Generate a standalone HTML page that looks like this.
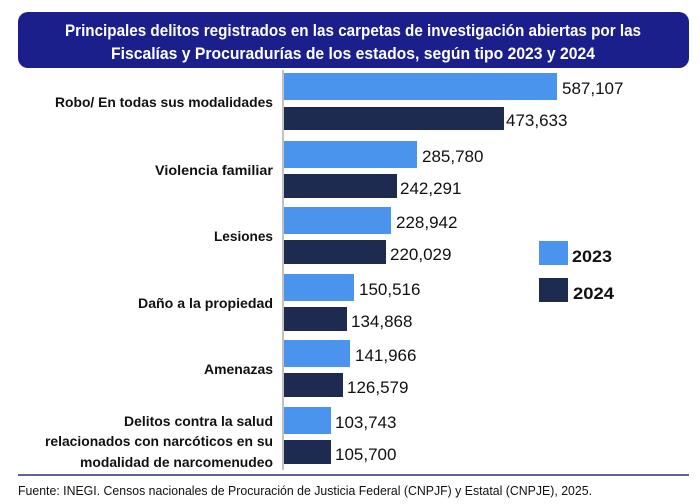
<!DOCTYPE html>
<html><head><meta charset="utf-8"><style>
body{margin:0;background:#fff}
svg{display:block;font-family:"Liberation Sans",Arial,sans-serif}
</style></head><body>
<svg width="700" height="504" viewBox="0 0 700 504">
<rect x="18" y="12" width="671" height="56" rx="10" fill="#1b1f8c"/>
<text x="353" y="36" text-anchor="middle" fill="#fff" font-weight="bold" font-size="17" textLength="576" lengthAdjust="spacingAndGlyphs">Principales delitos registrados en las carpetas de investigación abiertas por las</text>
<text x="353" y="59" text-anchor="middle" fill="#fff" font-weight="bold" font-size="17" textLength="484" lengthAdjust="spacingAndGlyphs">Fiscalías y Procuradurías de los estados, según tipo 2023 y 2024</text>
<line x1="283" y1="70" x2="283" y2="470" stroke="#999" stroke-width="1.2"/>
<g font-size="17" fill="#111">
<rect x="284" y="73" width="273" height="27" fill="#4a94ee"/><text x="562" y="94">587,107</text>
<rect x="284" y="107" width="220" height="23" fill="#1c2b4f"/><text x="506" y="126">473,633</text>
<rect x="284" y="141" width="133" height="27" fill="#4a94ee"/><text x="422" y="162">285,780</text>
<rect x="284" y="174" width="113" height="24" fill="#1c2b4f"/><text x="400" y="194">242,291</text>
<rect x="284" y="207" width="107" height="27" fill="#4a94ee"/><text x="396" y="228">228,942</text>
<rect x="284" y="240" width="102" height="24" fill="#1c2b4f"/><text x="390" y="260">220,029</text>
<rect x="284" y="274" width="70" height="27" fill="#4a94ee"/><text x="359" y="295">150,516</text>
<rect x="284" y="307" width="63" height="24" fill="#1c2b4f"/><text x="351" y="327">134,868</text>
<rect x="284" y="340" width="66" height="27" fill="#4a94ee"/><text x="355" y="361">141,966</text>
<rect x="284" y="373" width="59" height="24" fill="#1c2b4f"/><text x="347" y="393">126,579</text>
<rect x="284" y="407" width="47" height="27" fill="#4a94ee"/><text x="335" y="428">103,743</text>
<rect x="284" y="440" width="47" height="24" fill="#1c2b4f"/><text x="335" y="460">105,700</text>
</g>
<g font-size="14" font-weight="bold" fill="#111" text-anchor="end">
<text x="273" y="107" textLength="218" lengthAdjust="spacingAndGlyphs">Robo/ En todas sus modalidades</text>
<text x="273" y="175" textLength="118" lengthAdjust="spacingAndGlyphs">Violencia familiar</text>
<text x="273" y="241" textLength="59" lengthAdjust="spacingAndGlyphs">Lesiones</text>
<text x="273" y="308" textLength="135" lengthAdjust="spacingAndGlyphs">Daño a la propiedad</text>
<text x="273" y="374" textLength="69" lengthAdjust="spacingAndGlyphs">Amenazas</text>
<text x="273" y="426" textLength="149" lengthAdjust="spacingAndGlyphs">Delitos contra la salud</text>
<text x="273" y="446" textLength="228" lengthAdjust="spacingAndGlyphs">relacionados con narcóticos en su</text>
<text x="273" y="467" textLength="193" lengthAdjust="spacingAndGlyphs">modalidad de narcomenudeo</text>
</g>
<rect x="539" y="241" width="29" height="24" fill="#4a94ee"/>
<rect x="539" y="278" width="29" height="24" fill="#1c2b4f"/>
<g font-size="17" font-weight="bold" fill="#111">
<text x="572" y="262" textLength="40" lengthAdjust="spacingAndGlyphs">2023</text>
<text x="573" y="299" textLength="41" lengthAdjust="spacingAndGlyphs">2024</text>
</g>
<line x1="18" y1="475" x2="689" y2="475" stroke="#2a2f7a" stroke-width="1.5"/>
<text x="18" y="495" font-size="13" fill="#111" textLength="574" lengthAdjust="spacingAndGlyphs">Fuente: INEGI. Censos nacionales de Procuración de Justicia Federal (CNPJF) y Estatal (CNPJE), 2025.</text>
</svg>
</body></html>
